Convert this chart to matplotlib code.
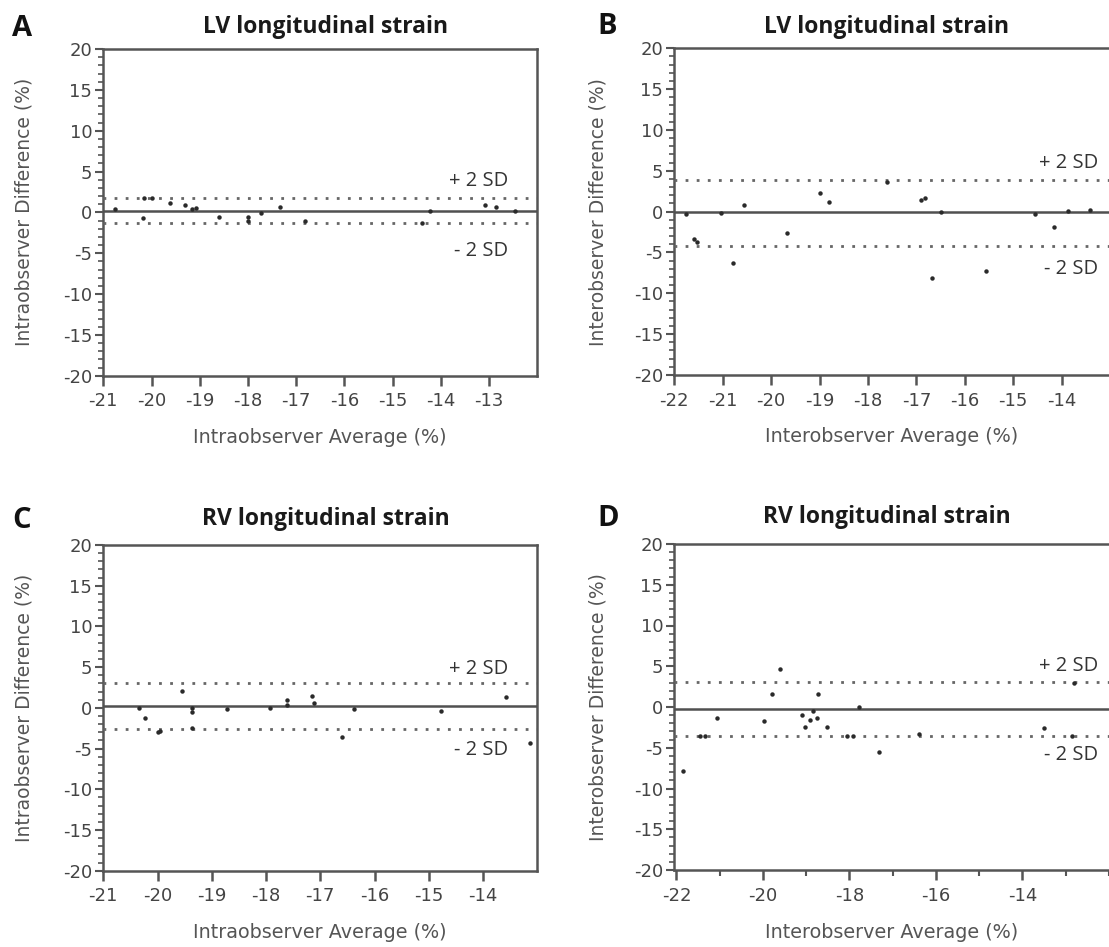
import numpy as np
import matplotlib.pyplot as plt
from matplotlib.ticker import MultipleLocator

plt.rcParams['font.family'] = 'DejaVu Sans'
plt.rcParams['axes.unicode_minus'] = False

#region DATA
# A: LV longitudinal strain, intraobserver
a_avg = [-20.76, -20.17, -20.15, -20.0, -19.62, -19.31, -19.17, -19.08, -18.61, -17.99,
         -17.99, -17.72, -17.33, -16.82, -14.40, -14.22, -13.08, -12.85, -12.46]
a_diff = [0.37, -0.73, 1.7, 1.7, 1.1, 0.9, 0.37, 0.49, -0.53, -0.53,
          -1.0, -0.12, 0.61, -1.02, -1.27, 0.2, 0.9, 0.61, 0.16]
a_bias, a_upper, a_lower = 0.2, 1.7, -1.3

# B: LV longitudinal strain, interobserver
b_avg = [-21.76, -21.6, -21.53, -21.04, -20.78, -20.56, -19.67, -18.99, -18.80, -17.61,
         -16.91, -16.82, -16.67, -16.50, -15.56, -14.54, -14.16, -13.86, -13.41]
b_diff = [-0.29, -3.4, -3.7, -0.12, -6.33, 0.82, -2.57, 2.33, 1.22, 3.67,
          1.43, 1.63, -8.16, -0.08, -7.22, -0.33, -1.92, 0.12, 0.2]
b_bias, b_upper, b_lower = -0.1, 3.9, -4.25

# C: RV longitudinal strain, intraobserver
c_avg = [-20.34, -20.23, -20.0, -19.95, -19.55, -19.36, -19.36, -19.37, -18.72, -17.93,
         -17.61, -17.61, -17.16, -17.11, -16.60, -16.38, -14.78, -13.57, -13.13]
c_diff = [0.02, -1.29, -2.95, -2.8, 2.07, 0.0, -0.45, -2.52, -0.18, 0.02,
          0.96, 0.35, 1.45, 0.55, -3.54, -0.18, -0.39, 1.29, -4.28]
c_bias, c_upper, c_lower = 0.2, 3.1, -2.65

# D: RV longitudinal strain, interobserver
d_avg = [-21.86, -21.45, -21.35, -21.07, -19.98, -19.80, -19.61, -19.09, -19.03, -18.92, -18.84,
         -18.76, -18.72, -18.52, -18.05, -17.92, -17.78, -17.31, -16.40, -13.50, -12.86, -12.80]
d_diff = [-7.85, -3.55, -3.55, -1.31, -1.72, 1.6, 4.66, -0.98, -2.49, -1.6, -0.45,
          -1.31, 1.6, -2.49, -3.55, -3.55, -0.04, -5.56, -3.31, -2.62, -3.6, 2.9]
d_bias, d_upper, d_lower = -0.25, 3.03, -3.52
#endregion

W, H = 1109, 947
fig = plt.figure(figsize=(W / 100, H / 100), dpi=100)
fig.patch.set_facecolor('white')

def px_rect(left, top, right, bottom):
    return [left / W, 1 - bottom / H, (right - left) / W, (bottom - top) / H]

panels = [
    dict(letter='A', title='LV longitudinal strain', avg=a_avg, diff=a_diff,
         lines=(a_bias, a_upper, a_lower), rect=(103.3, 49, 537.3, 375.7),
         xlim=(-21, -12), xticks=np.arange(-21, -12.5, 1), xminor=None,
         xlabel='Intraobserver Average (%)', ylabel='Intraobserver Difference (%)',
         sd_x=-12.6, sd_off=(17, 28), right=True, letter_xy=(22, 28), title_xy=(326, 27)),
    dict(letter='B', title='LV longitudinal strain', avg=b_avg, diff=b_diff,
         lines=(b_bias, b_upper, b_lower), rect=(674.3, 48.3, 1109, 375),
         xlim=(-22, -13.02), xticks=np.arange(-22, -13.5, 1), xminor=None,
         xlabel='Interobserver Average (%)', ylabel='Interobserver Difference (%)',
         sd_x=-13.25, sd_off=(17, 23), right=False, letter_xy=(607, 27), title_xy=(887, 27)),
    dict(letter='C', title='RV longitudinal strain', avg=c_avg, diff=c_diff,
         lines=(c_bias, c_upper, c_lower), rect=(103.3, 545, 537.3, 870.7),
         xlim=(-21, -13), xticks=np.arange(-21, -13.5, 1), xminor=None,
         xlabel='Intraobserver Average (%)', ylabel='Intraobserver Difference (%)',
         sd_x=-13.53, sd_off=(14, 21), right=True, letter_xy=(22, 520), title_xy=(326, 519)),
    dict(letter='D', title='RV longitudinal strain', avg=d_avg, diff=d_diff,
         lines=(d_bias, d_upper, d_lower), rect=(674.3, 544, 1109, 870),
         xlim=(-22.05, -12.0), xticks=np.arange(-22, -13.5, 2), xminor=1,
         xlabel='Interobserver Average (%)', ylabel='Interobserver Difference (%)',
         sd_x=-12.25, sd_off=(16, 19), right=False, letter_xy=(608, 518), title_xy=(887, 517)),
]

spine_col = '#555555'
for p in panels:
    l, t, r, b = p['rect']
    ax = fig.add_axes(px_rect(l, t, r, b))
    w, h = r - l, b - t

    ax.plot(p['avg'], p['diff'], 'o', ms=3.2, color='#2a2a2a', mec='none', zorder=4)
    bias, upper, lower = p['lines']
    ax.axhline(bias, color='#505050', lw=1.8, zorder=3)
    for v in (upper, lower):
        ax.axhline(v, color='#666666', lw=2.0, ls=(0, (1, 3)), zorder=3)

    ax.annotate('+ 2 SD', xy=(p['sd_x'], upper), xytext=(0, p['sd_off'][0] * 0.72),
                textcoords='offset points', ha='right', va='center',
                fontsize=14.5, family='Open Sans', color='#333333')
    ax.annotate('- 2 SD', xy=(p['sd_x'], lower), xytext=(0, -p['sd_off'][1] * 0.72),
                textcoords='offset points', ha='right', va='center',
                fontsize=14.5, family='Open Sans', color='#333333')

    ax.set_xlim(*p['xlim'])
    ax.set_ylim(-20, 20)
    ax.set_xticks(p['xticks'])
    ax.set_xticklabels([f'{int(v)}' for v in p['xticks']])
    if p['xminor']:
        ax.xaxis.set_minor_locator(MultipleLocator(p['xminor']))
    ax.yaxis.set_major_locator(MultipleLocator(5))
    ax.yaxis.set_minor_locator(MultipleLocator(1))

    for s in ax.spines.values():
        s.set_color(spine_col)
        s.set_linewidth(1.8)
    ax.spines['right'].set_visible(p['right'])

    ax.tick_params(axis='x', which='major', direction='out', length=7, width=1.8,
                   color=spine_col, labelsize=13, labelcolor='#444444', pad=5)
    ax.tick_params(axis='x', which='minor', direction='out', length=4, width=1.5, color=spine_col)
    ax.tick_params(axis='y', which='major', direction='out', length=6, width=1.5,
                   color=spine_col, labelsize=13, labelcolor='#444444', pad=2)
    ax.tick_params(axis='y', which='minor', direction='out', length=3.5, width=1.2, color=spine_col)

    ax.set_xlabel(p['xlabel'], fontsize=13.8, color='#555555')
    ax.xaxis.set_label_coords(0.5, -62 / h)
    ax.xaxis.label.set_va('center')
    ax.set_ylabel(p['ylabel'], fontsize=13.5, color='#555555')
    ylab_x = 24 if p['letter'] in 'AC' else 598
    ax.yaxis.set_label_coords((ylab_x - l) / w, 0.5)
    ax.yaxis.label.set_va('center')

    tx, ty = p['title_xy']
    ax.set_title(p['title'], x=(tx - l) / w, y=1 + (t - ty) / h, pad=0, va='center',
                 fontsize=16.5, fontweight='bold', family='Open Sans', color='#1a1a1a')
    lx, ly = p['letter_xy']
    fig.text(lx / W, 1 - ly / H, p['letter'], ha='center', va='center',
             fontsize=21, fontweight='bold', family='Open Sans', color='#111111')

plt.savefig('out.png', dpi=100, facecolor='white')
